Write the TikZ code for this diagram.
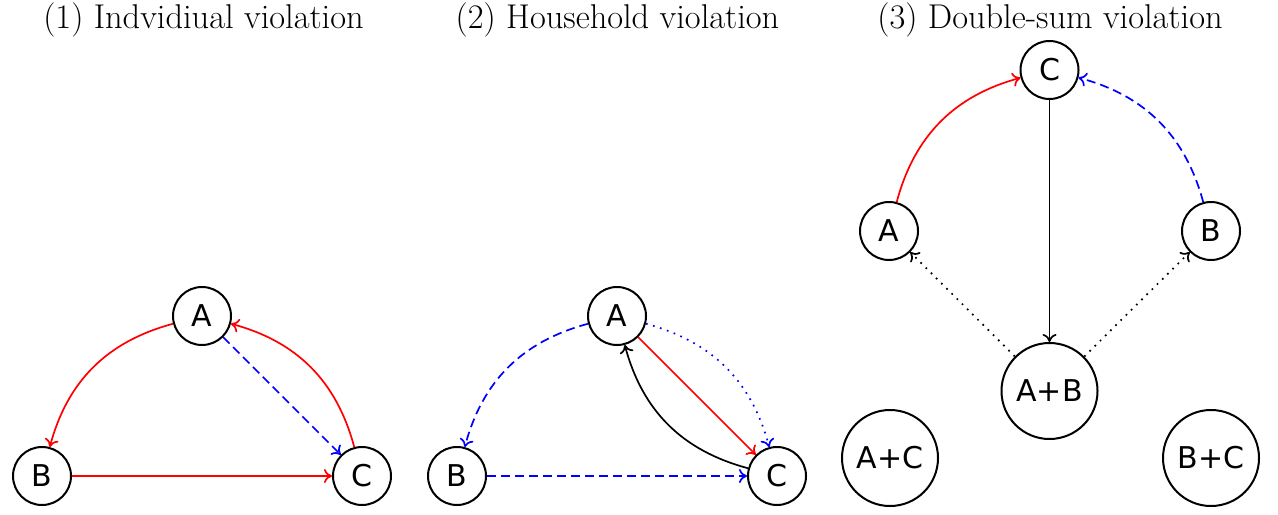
\documentclass[tikz,border=0pt]{standalone}
\usepackage{fontspec}
\newfontfamily\labelfont{DejaVu Sans}
\usetikzlibrary{arrows.meta}
\begin{document}
\begin{tikzpicture}[x=0.5pt,y=0.5pt,
  vertex/.style={circle,draw,line width=1pt,minimum size=29pt,inner sep=0pt,font=\labelfont\fontsize{15}{15}\selectfont},
  bigvertex/.style={vertex,minimum size=48pt},
  title/.style={anchor=base,font=\fontsize{17.2}{17.2}\selectfont},
  edge/.style={line width=0.85pt,-{To[length=4pt,width=7pt]}},
  dashedge/.style={edge,dash pattern=on 4.5pt off 2.5pt},
  dotedge/.style={edge,dash pattern=on 0.85pt off 2.8pt}]
\useasboundingbox (0,0) rectangle (1278,-514);

% (1) individual violation
\node[title] (t1) at (203.5,-28) {(1) Indvidiual violation};
\node[vertex] (a1) at (202,-316) {A};
\node[vertex] (b1) at (42,-476) {B};
\node[vertex] (c1) at (362,-476) {C};
\draw[edge,red] (a1) to[bend right=30] (b1);
\draw[edge,red] (b1) -- (c1);
\draw[edge,red] (c1) to[bend right=30] (a1);
\draw[dashedge,blue] (a1) -- (c1);

% (2) household violation
\node[title] (t2) at (617.5,-28) {(2) Household violation};
\node[vertex] (a2) at (617,-316) {A};
\node[vertex] (b2) at (457,-476) {B};
\node[vertex] (c2) at (777,-476) {C};
\draw[dashedge,blue] (a2) to[bend right=30] (b2);
\draw[dashedge,blue] (b2) -- (c2);
\draw[dotedge,blue] (a2) to[bend left=30] (c2);
\draw[edge,red] (a2) -- (c2);
\draw[edge,black] (c2) to[bend left=30] (a2);

% (3) double-sum violation
\node[title] (t3) at (1050,-28) {(3) Double-sum violation};
\node[vertex] (c3) at (1049.5,-70) {C};
\node[vertex] (a3) at (889,-231) {A};
\node[vertex] (b3) at (1211,-231) {B};
\node[bigvertex] (ab3) at (1049.5,-391) {A+B};
\node[bigvertex] (ac3) at (890,-458) {A+C};
\node[bigvertex] (bc3) at (1211,-458) {B+C};
\draw[edge,red] (a3) to[bend left=30] (c3);
\draw[dashedge,blue] (b3) to[bend right=30] (c3);
\draw[edge,black] (c3) -- (ab3);
\draw[dotedge,black] (ab3) -- (a3);
\draw[dotedge,black] (ab3) -- (b3);
\end{tikzpicture}
\end{document}
